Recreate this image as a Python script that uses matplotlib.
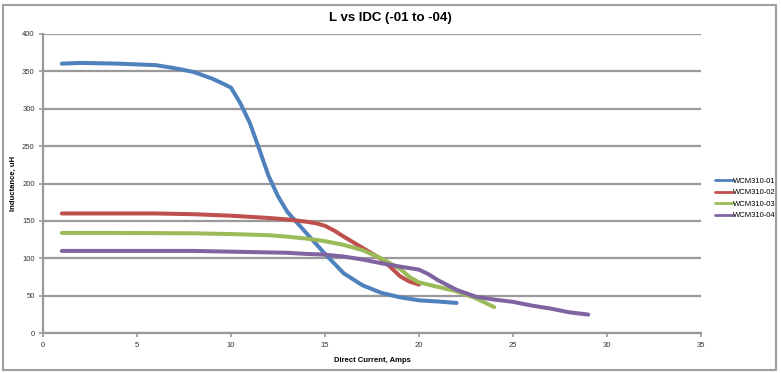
import numpy as np
import matplotlib
matplotlib.use("Agg")
import matplotlib.pyplot as plt
from matplotlib.patches import Rectangle

plt.rcParams["font.family"] = ["Liberation Sans", "DejaVu Sans"]

# values (Amps, uH)
x_01 = [1, 2, 3, 4, 5, 6, 7, 8, 9, 9.6, 10, 10.5, 11, 11.5, 12, 12.5, 13, 14, 15, 16, 17, 18, 19, 20, 21, 22]
l_01 = [360, 361, 360.5, 360, 359, 358, 354, 349, 340, 333, 328, 307, 281, 246, 210, 183, 162, 134, 106, 80, 64, 54, 48, 44, 42.5, 40.5]

x_02 = [1, 2, 4, 6, 7, 8, 9, 10, 11, 12, 13, 14, 14.5, 15, 15.5, 16, 17, 18, 18.5, 19, 19.5, 20]
l_02 = [160, 160, 160, 160, 159.5, 159, 158, 157, 155.5, 154, 152, 149, 147, 143.5, 137, 129, 114, 99, 88, 76, 69, 65]

x_03 = [1, 4, 8, 10, 12, 13, 14, 15, 16, 17, 18, 19, 19.5, 20, 21, 22, 23, 24]
l_03 = [134, 134, 133.5, 132.5, 131, 129, 126.5, 123, 118, 111, 100, 86, 75, 68, 62, 56, 47, 35]

x_04 = [1, 4, 8, 10, 12, 13, 14, 15, 16, 17, 18, 19, 20, 20.5, 21, 22, 23, 24, 25, 26, 27, 28, 29]
l_04 = [110, 110, 110, 109, 108, 107.5, 106, 105, 102.5, 98.5, 93.5, 89, 85, 79, 71, 58, 49, 45, 42, 37, 33, 28, 25]

names = ["WCM310-01", "WCM310-02", "WCM310-03", "WCM310-04"]
colors = ["#4F81BD", "#C0504D", "#9BBB59", "#8064A2"]

fig = plt.figure(figsize=(7.81, 3.73), dpi=100)
W, H = 781, 373
ax = fig.add_axes([43 / W, 1 - 333.3 / H, (701 - 43) / W, (333.3 - 33.7) / H])

for xs, ys, nm, c in zip([x_01, x_02, x_03, x_04], [l_01, l_02, l_03, l_04], names, colors):
    ax.plot(xs, ys, color=c, lw=2.9, label=nm, solid_capstyle="round", solid_joinstyle="round")

ax.set_xlim(0, 35)
ax.set_ylim(0, 400)
ax.set_xticks(np.arange(0, 36, 5))
ax.set_yticks(np.arange(0, 401, 50))
ax.yaxis.grid(True, color="#9A9A9A", lw=1.6)
ax.set_axisbelow(True)
for s in ["top", "right"]:
    ax.spines[s].set_visible(False)
for s in ["left", "bottom"]:
    ax.spines[s].set_color("#9A9A9A")
    ax.spines[s].set_linewidth(1.6)
ax.tick_params(axis="both", labelsize=5.5, colors="#9A9A9A", labelcolor="#333333",
               length=3, width=1.2, direction="out")
ax.tick_params(axis="x", pad=3)
ax.tick_params(axis="y", pad=3)

ax.set_xlabel("Direct Current, Amps", fontsize=5.5, fontweight="bold", labelpad=6)
ax.set_ylabel("Inductance, uH", fontsize=5.5, fontweight="bold", labelpad=4)

fig.text(0.5, 1 - 18 / H, "L vs IDC (-01 to -04)", ha="center", va="center",
         fontsize=9.5, fontweight="bold")

leg = ax.legend(loc="center left", bbox_to_anchor=(711 / W, 1 - 198.5 / H),
                bbox_transform=fig.transFigure, frameon=False, fontsize=5.5,
                handlelength=2.4, handletextpad=0.0, labelspacing=0.55, borderpad=0)
for ln in leg.get_lines():
    ln.set_linewidth(2.0)

fig.patches.append(Rectangle((3 / W, 3 / H), 773 / W, 365 / H, transform=fig.transFigure,
                             fill=False, edgecolor="#A0A0A0", lw=1.5))

fig.savefig("out.png", dpi=100)
